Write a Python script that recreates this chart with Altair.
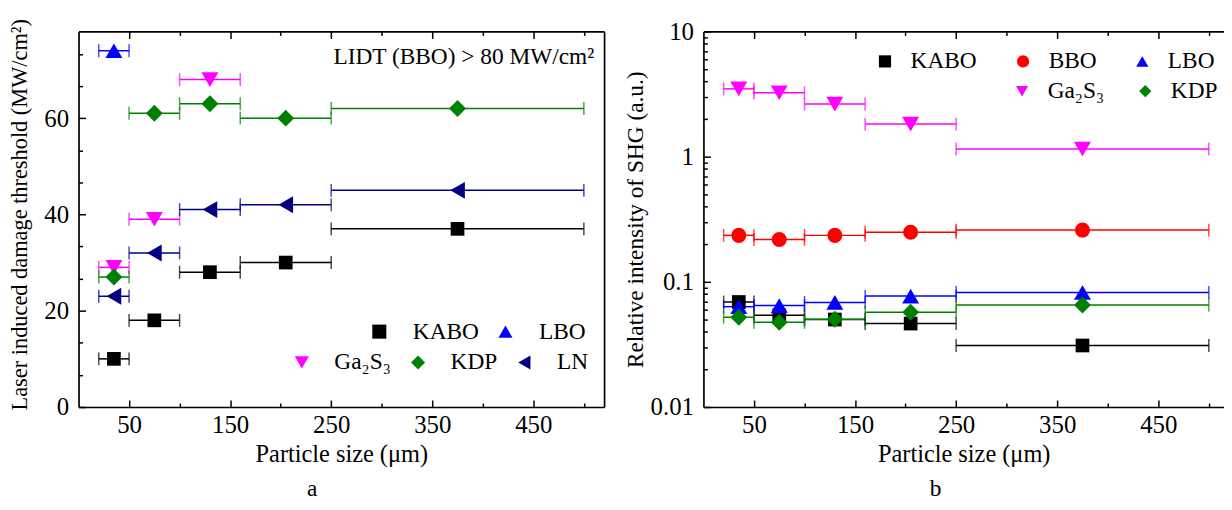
import altair as alt
import pandas as pd

FONT = "Liberation Serif"

# particle-size bins (µm)
bin_lo = [20, 50, 100, 160, 250]
bin_hi = [50, 100, 160, 250, 500]
bin_mid = [35, 75, 130, 205, 375]

# panel a: laser induced damage threshold (MW/cm2)
lidt_names = ["KABO", "LBO", "Ga₂S₃", "KDP", "LN"]
lidt_kabo = [10, 18, 28, 30, 37]
lidt_lbo = [74]
lidt_ga2s3 = [29, 39, 68]
lidt_kdp = [27, 61, 63, 60, 62]
lidt_ln = [23, 32, 41, 42, 45]

# panel b: relative SHG intensity (a.u.)
shg_names = ["KABO", "BBO", "LBO", "Ga₂S₃", "KDP"]
shg_kabo = [0.069, 0.054, 0.050, 0.0464, 0.031]
shg_bbo = [0.235, 0.218, 0.235, 0.249, 0.259]
shg_lbo = [0.0633, 0.0646, 0.0685, 0.0769, 0.0822]
shg_ga2s3 = [3.48, 3.24, 2.63, 1.82, 1.15]
shg_kdp = [0.0521, 0.0475, 0.0502, 0.0571, 0.0653]

x_major = [50, 150, 250, 350, 450]
x_minor = [100, 200, 300, 400, 500]
lidt_major = [0, 20, 40, 60]
lidt_minor = [20 / 3, 40 / 3, 80 / 3, 100 / 3, 140 / 3, 160 / 3, 200 / 3, 220 / 3]
shg_major = [0.01, 0.1, 1, 10]
shg_minor = [m * d for d in (0.01, 0.1, 1) for m in range(2, 10)]

COLORS = {"KABO": "#000000", "BBO": "#ff0000", "LBO": "#0000ff",
          "Ga₂S₃": "#ff00ff", "KDP": "#008000", "LN": "#000080"}
SHAPES = {"KABO": "square", "BBO": "circle", "LBO": "triangle-up",
          "Ga₂S₃": "triangle-down", "KDP": "diamond", "LN": "triangle-left"}

LAB = 25     # tick label size
XTIT = 24.5  # x axis title size
LEG = 23.5   # legend label size


def frame(names, series):
    rows = []
    for name, vals in zip(names, series):
        for i, v in enumerate(vals):
            rows.append(dict(material=name, mid=bin_mid[i], lo=bin_lo[i],
                             hi=bin_hi[i], value=v))
    return pd.DataFrame(rows)


def ax(orient, values=None, size=0, labels=False, title=None, domain=False, **kw):
    opts = dict(orient=orient, grid=False, labels=labels, domain=domain,
                title=title, labelFlush=False, labelOverlap=False)
    if values is not None:
        opts.update(values=values, ticks=True, tickSize=size, offset=-size,
                    tickWidth=1.5, tickColor="black")
    else:
        opts.update(ticks=False)
    if domain:
        opts.update(domainColor="black", domainWidth=1.7)
    opts.update(kw)
    return alt.Axis(**opts)


def marker_size():
    return (alt.when(alt.datum.material == "KABO").then(alt.value(190))
            .when(alt.datum.material == "BBO").then(alt.value(230))
            .otherwise(alt.value(290)))


def panel(df, names, groups, legends, xscale, yscale, xaxes, yaxes, w, h,
          label, dx, note=None):
    allcol = alt.Scale(domain=names, range=[COLORS[n] for n in names])
    bars = alt.Chart(df).mark_rule(strokeWidth=1.5).encode(
        x=alt.X("lo:Q", scale=xscale, axis=None),
        x2="hi:Q",
        y=alt.Y("value:Q", scale=yscale, axis=None),
        color=alt.Color("material:N", scale=allcol, legend=None),
    )
    caps = alt.Chart(df).transform_fold(["lo", "hi"], as_=["end", "pos"]).mark_tick(
        orient="vertical", size=13, thickness=1.5).encode(
        x=alt.X("pos:Q", scale=xscale, axis=None),
        y=alt.Y("value:Q", scale=yscale, axis=None),
        color=alt.Color("material:N", scale=allcol, legend=None),
    )
    layers = [bars, caps]
    for grp, leg in zip(groups, legends):
        lg = alt.Legend(title=None, orient="none", legendX=leg["x"], legendY=leg["y"],
                        direction="horizontal", columns=len(grp),
                        columnPadding=leg["pad"], labelOffset=leg["off"],
                        symbolSize=leg["sym"], symbolStrokeWidth=0,
                        labelFont=FONT, labelFontSize=LEG, labelColor="black",
                        padding=0)
        pts = alt.Chart(df).transform_filter(
            alt.FieldOneOfPredicate(field="material", oneOf=grp)
        ).mark_point(filled=True, opacity=1, strokeWidth=0).encode(
            x=alt.X("mid:Q", scale=xscale, axis=None),
            y=alt.Y("value:Q", scale=yscale, axis=None),
            color=alt.Color("material:N", legend=lg,
                            scale=alt.Scale(domain=grp, range=[COLORS[n] for n in grp])),
            shape=alt.Shape("material:N", legend=lg,
                            scale=alt.Scale(domain=grp, range=[SHAPES[n] for n in grp])),
            size=marker_size(),
        )
        layers.append(pts)
    n = max(len(xaxes), len(yaxes))
    for i in range(n):
        xa = xaxes[i] if i < len(xaxes) else None
        ya = yaxes[i] if i < len(yaxes) else None
        layers.append(alt.Chart(df).mark_point(opacity=0).encode(
            x=alt.X("mid:Q", scale=xscale, axis=xa),
            y=alt.Y("value:Q", scale=yscale, axis=ya),
        ))
    if note is not None:
        layers.append(alt.Chart(pd.DataFrame({"t": [note]})).mark_text(
            align="right", baseline="middle", font=FONT, fontSize=LEG, color="black"
        ).encode(text="t:N", x=alt.value(w - 10), y=alt.value(26)))
    return alt.layer(*layers).resolve_scale(
        color="independent", shape="independent"
    ).resolve_axis(x="independent", y="independent").properties(
        width=w, height=h,
        title=alt.TitleParams(label, orient="bottom", anchor="middle", frame="bounds",
                              dx=dx, offset=11, font=FONT, fontSize=LEG,
                              fontWeight="normal", color="black"),
    )


XT = "Particle size (μm)"

# ---- panel a
df_a = frame(lidt_names, [lidt_kabo, lidt_lbo, lidt_ga2s3, lidt_kdp, lidt_ln])
xs_a = alt.Scale(domain=[0, 520], nice=False, zero=False)
ys_a = alt.Scale(domain=[0, 78], nice=False, zero=False)
xaxes_a = [
    ax("bottom", x_major, 7, labels=True, title=XT, labelPadding=6, titlePadding=5,
       titleFontSize=XTIT),
    ax("bottom", x_minor, 4),
    ax("top", x_major, 7),
    ax("top", x_minor, 4),
    ax("bottom", domain=True),
    ax("top", domain=True),
]
yaxes_a = [
    ax("left", lidt_major, 7, labels=True,
       title="Laser induced damage threshold (MW/cm²)", labelPadding=10,
       titlePadding=12.5, titleFontSize=22.5, titleY=184),
    ax("left", lidt_minor, 4),
    ax("left", domain=True),
    ax("right", domain=True),
]
left = panel(
    df_a, lidt_names,
    [["KABO", "LBO"], ["Ga₂S₃", "KDP", "LN"]],
    [dict(x=291, y=290, pad=14, off=22, sym=200), dict(x=213, y=321, pad=15, off=21, sym=200)],
    xs_a, ys_a, xaxes_a, yaxes_a, 529, 378, "a", 6,
    note="LIDT (BBO) > 80 MW/cm²",
)

# ---- panel b
df_b = frame(shg_names, [shg_kabo, shg_bbo, shg_lbo, shg_ga2s3, shg_kdp])
xs_b = alt.Scale(domain=[0, 515], nice=False, zero=False)
ys_b = alt.Scale(type="log", domain=[0.01, 10], nice=False)
xaxes_b = [
    ax("bottom", x_major, 7, labels=True, title=XT, labelPadding=6, titlePadding=5,
       titleFontSize=XTIT),
    ax("bottom", x_minor, 4),
    ax("top", x_major, 7),
    ax("top", x_minor, 4),
    ax("bottom", domain=True),
    ax("top", domain=True),
]
yaxes_b = [
    ax("left", shg_major, 7, labels=True, title="Relative intensity of SHG (a.u.)",
       labelPadding=10, titlePadding=3, format="~g", titleFontSize=23.5),
    ax("left", shg_minor, 4),
    ax("left", domain=True),
]
right = panel(
    df_b, shg_names,
    [["KABO", "BBO", "LBO"], ["Ga₂S₃", "KDP"]],
    [dict(x=171, y=18, pad=34, off=14, sym=150), dict(x=309, y=48, pad=29, off=14, sym=150)],
    xs_b, ys_b, xaxes_b, yaxes_b, 524, 378, "b", 12,
)

chart = alt.hconcat(left, right, spacing=19).resolve_scale(
    color="independent", shape="independent"
).properties(
    padding={"left": 0, "top": 8, "right": 0, "bottom": 0}
).configure(font=FONT).configure_view(stroke=None).configure_axis(
    labelFont=FONT, titleFont=FONT, labelFontSize=LAB,
    labelColor="black", titleColor="black", titleFontWeight="normal",
)

chart.save("out.html", embed_options={"renderer": "svg", "actions": False})
